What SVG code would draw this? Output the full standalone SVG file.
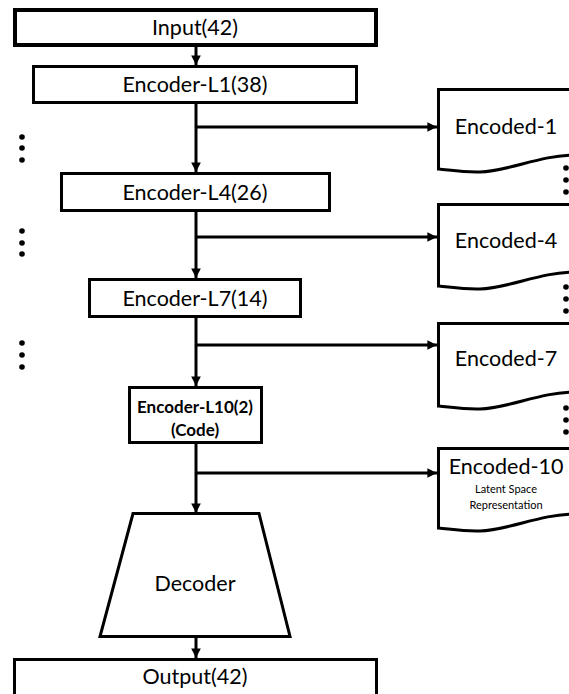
<svg xmlns="http://www.w3.org/2000/svg" width="569" height="694" viewBox="0 0 569 694">
<defs>
<style>
.box{fill:#fff;stroke:#000;stroke-width:3}
.t{font-family:Lato,"Open Sans","Liberation Sans",sans-serif;font-size:21.5px;fill:#000;text-anchor:middle}
.b{font-family:Lato,"Open Sans","Liberation Sans",sans-serif;font-size:17px;font-weight:bold;fill:#000;text-anchor:middle}
.s{font-family:Lato,"Open Sans","Liberation Sans",sans-serif;font-size:11px;fill:#000;text-anchor:middle}
.ln{stroke:#000;stroke-width:3;fill:none}
.dot{fill:#000}
</style>
<marker id="ah" viewBox="0 0 10 10" refX="10" refY="5" markerWidth="3.2" markerHeight="3.2" orient="auto" markerUnits="strokeWidth">
<path d="M0,0 L10,5 L0,10 z" fill="#000"/>
</marker>
</defs>

<g id="connectors">
<line class="ln" x1="196" y1="47" x2="196" y2="65" marker-end="url(#ah)"/>
<line class="ln" x1="196" y1="104" x2="196" y2="172" marker-end="url(#ah)"/>
<line class="ln" x1="196" y1="127" x2="437" y2="127" marker-end="url(#ah)"/>
<line class="ln" x1="196" y1="212" x2="196" y2="278" marker-end="url(#ah)"/>
<line class="ln" x1="196" y1="237" x2="437" y2="237" marker-end="url(#ah)"/>
<line class="ln" x1="196" y1="318" x2="196" y2="386" marker-end="url(#ah)"/>
<line class="ln" x1="196" y1="345" x2="437" y2="345" marker-end="url(#ah)"/>
<line class="ln" x1="196" y1="444" x2="196" y2="513" marker-end="url(#ah)"/>
<line class="ln" x1="196" y1="473" x2="437" y2="473" marker-end="url(#ah)"/>
<line class="ln" x1="196" y1="637" x2="196" y2="658" marker-end="url(#ah)"/>
</g>

<g id="input">
<rect x="15" y="10" width="361" height="35" fill="#fff" stroke="#000" stroke-width="4"/>
<text class="t" x="195" y="35">Input(42)</text>
</g>
<g id="encoder-l1">
<rect class="box" x="33.5" y="66.5" width="323" height="36"/>
<text class="t" x="195" y="92">Encoder-L1(38)</text>
</g>
<g id="encoder-l4">
<rect class="box" x="61.5" y="173.5" width="268" height="37"/>
<text class="t" x="195" y="200">Encoder-L4(26)</text>
</g>
<g id="encoder-l7">
<rect class="box" x="89.5" y="279.5" width="211" height="37"/>
<text class="t" x="195" y="306">Encoder-L7(14)</text>
</g>
<g id="encoder-l10">
<rect class="box" x="129.5" y="387.5" width="132" height="55"/>
<text class="b" x="195" y="413">Encoder-L10(2)</text>
<text class="b" x="195" y="436">(Code)</text>
</g>
<g id="decoder">
<path class="box" d="M133,513.5 L259,513.5 L290,636.5 L100,636.5 Z"/>
<text class="t" x="195" y="591">Decoder</text>
</g>
<g id="output">
<rect class="box" x="14.5" y="659.5" width="362" height="50"/>
<text class="t" x="195" y="684">Output(42)</text>
</g>

<g id="encoded-1">
<path class="box" d="M438.5,169 L438.5,89.5 L575,89.5 L575,155 C540,155 510,171 480,172 C462,172.5 450,170 438.5,169 Z"/>
<text class="t" x="506" y="134">Encoded-1</text>
</g>
<g id="encoded-4">
<path class="box" d="M438.5,286 L438.5,204.5 L575,204.5 L575,272 C540,272 510,288 480,289 C462,289.5 450,287 438.5,286 Z"/>
<text class="t" x="506" y="248">Encoded-4</text>
</g>
<g id="encoded-7">
<path class="box" d="M438.5,406 L438.5,323.5 L575,323.5 L575,392 C540,392 510,408 480,409 C462,409.5 450,407 438.5,406 Z"/>
<text class="t" x="506" y="366">Encoded-7</text>
</g>
<g id="encoded-10">
<path class="box" d="M438.5,528 L438.5,448.5 L575,448.5 L575,514 C540,514 510,530 480,531 C462,531.5 450,529 438.5,528 Z"/>
<text class="t" x="506" y="474">Encoded-10</text>
<text class="s" x="506" y="493">Latent Space</text>
<text class="s" x="506" y="509">Representation</text>
</g>

<g id="ellipses">
<circle class="dot" cx="22" cy="137" r="2.8"/>
<circle class="dot" cx="22" cy="148" r="2.8"/>
<circle class="dot" cx="22" cy="160" r="2.8"/>
<circle class="dot" cx="22" cy="231" r="2.8"/>
<circle class="dot" cx="22" cy="243" r="2.8"/>
<circle class="dot" cx="22" cy="254" r="2.8"/>
<circle class="dot" cx="22" cy="343" r="2.8"/>
<circle class="dot" cx="22" cy="355" r="2.8"/>
<circle class="dot" cx="22" cy="367" r="2.8"/>
<circle class="dot" cx="566" cy="168" r="2.8"/>
<circle class="dot" cx="566" cy="180" r="2.8"/>
<circle class="dot" cx="566" cy="192" r="2.8"/>
<circle class="dot" cx="566" cy="287" r="2.8"/>
<circle class="dot" cx="566" cy="299" r="2.8"/>
<circle class="dot" cx="566" cy="311" r="2.8"/>
<circle class="dot" cx="566" cy="408" r="2.8"/>
<circle class="dot" cx="566" cy="420" r="2.8"/>
<circle class="dot" cx="566" cy="432" r="2.8"/>
</g>
</svg>
